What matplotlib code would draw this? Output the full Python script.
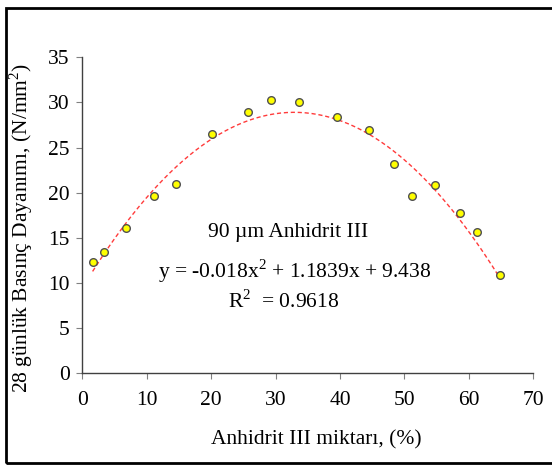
import numpy as np
import matplotlib
matplotlib.use("Agg")
import matplotlib.pyplot as plt
from matplotlib.patches import Rectangle

plt.rcParams['font.family'] = ['Liberation Serif', 'DejaVu Serif']
plt.rcParams['mathtext.fontset'] = 'custom'
plt.rcParams['mathtext.rm'] = 'Liberation Serif'

x_vals = [1.6, 3.3, 6.8, 11.1, 14.6, 20.2, 25.7, 29.3, 33.6, 39.5, 44.5, 48.4, 51.2, 54.8, 58.6, 61.3, 64.8]
y_vals = [12.3, 13.4, 16.1, 19.6, 21.0, 26.5, 28.9, 30.3, 30.1, 28.4, 26.9, 23.2, 19.6, 20.9, 17.7, 15.6, 10.9]
coef = [-0.018, 1.1839, 9.438]
x_ticks = [0, 10, 20, 30, 40, 50, 60, 70]
y_ticks = [0, 5, 10, 15, 20, 25, 30, 35]

FS = 15.5
fig = plt.figure(figsize=(5.52, 4.65), dpi=100)
ax = fig.add_axes([82.3/552, 1-373.3/465, (533.3-82.3)/552, (373.3-57.3)/465])

xf = np.linspace(min(x_vals), max(x_vals), 200)
yf = np.polyval(coef, xf)
ax.plot(xf, yf, color='#ff3b3b', lw=1.0, ls=(0, (3, 2)), zorder=2)
ax.plot(x_vals, y_vals, 'o', ms=5.5, mfc='#ffff00', mec='#505050', mew=1.0, zorder=3)

ax.set_xlim(0, 70)
ax.set_ylim(0, 35)
ax.set_xticks(x_ticks)
ax.set_yticks(y_ticks)
for s in ['top', 'right']:
    ax.spines[s].set_visible(False)
for s in ['left', 'bottom']:
    ax.spines[s].set_color('#404040')
    ax.spines[s].set_linewidth(1.0)
ax.tick_params(direction='out', length=4, width=0.8, color='#808080', labelsize=FS, labelcolor='black')
ax.tick_params(axis='x', pad=9)
ax.tick_params(axis='y', pad=5)

ax.set_xlabel('Anhidrit III miktarı, (%)', fontsize=FS)
ax.set_ylabel('28 günlük Basınç Dayanımı, (N/mm$^2$)', fontsize=FS)
ax.xaxis.set_label_coords((316-82.3)/451, (373.3-440)/316)
ax.xaxis.label.set_va('center')
ax.yaxis.set_label_coords((21-82.3)/451, (373.3-228)/316)
ax.yaxis.label.set_va('center')

ax.text(19.5, 15.65, '90 µm Anhidrit III', fontsize=FS, va='center', ha='left')
ax.text(11.8, 11.33, 'y = -0.018x$^2$ + 1.1839x + 9.438', fontsize=FS, va='center', ha='left')
ax.text(22.6, 7.9, 'R$^2$  = 0.9618', fontsize=FS, va='center', ha='left')

rect = Rectangle((6/552, 2/465), 1.0, 455/465, transform=fig.transFigure,
                 fill=False, edgecolor='black', lw=2.0, clip_on=False)
fig.patches.append(rect)

fig.savefig('out.png', dpi=100)
